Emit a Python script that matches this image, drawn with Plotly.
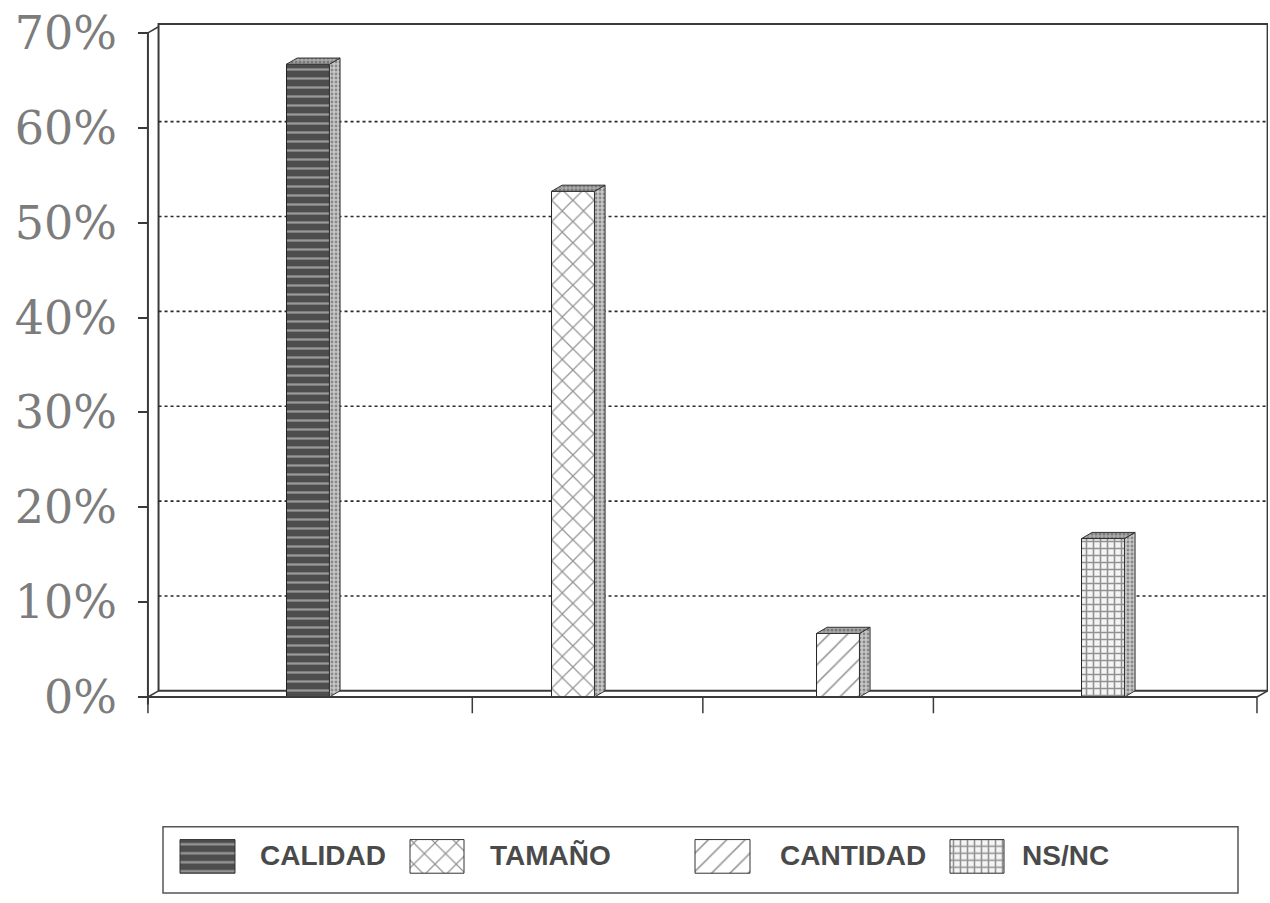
import plotly.graph_objects as go

# ---- data ----
categories = ["CALIDAD", "TAMAÑO", "CANTIDAD", "NS/NC"]
values = [66.7, 53.3, 6.7, 16.7]          # percent of responses
y_ticks = [0, 10, 20, 30, 40, 50, 60, 70]
y_tick_labels = ["0%", "10%", "20%", "30%", "40%", "50%", "60%", "70%"]
x_divisions = [0.396, 1.62, 2.49, 3.36, 4.581]   # tick marks along the front floor edge

# ---- styles ----
front_patterns = [
    dict(shape="-", fgcolor="#e6e6e6", bgcolor="#4d4d4d", size=9, solidity=0.25),
    dict(shape="x", fgcolor="#2a2a2a", bgcolor="#ffffff", size=15, solidity=0.16),
    dict(shape="/", fgcolor="#333333", bgcolor="#ffffff", size=13, solidity=0.12),
    dict(shape="+", fgcolor="#2e2e2e", bgcolor="#f4f4f4", size=7, solidity=0.4),
]
side_pattern = dict(shape=".", fgcolor="#4a4a4a", bgcolor="#c8c8c8", size=4, solidity=0.4)
top_pattern = dict(shape=".", fgcolor="#4a4a4a", bgcolor="#aaaaaa", size=4, solidity=0.45)

bar_w = 0.162     # front face width (x units)
dx = 0.04         # depth offset in x
dy = 0.65         # depth offset in y (percent units)
x_left, x_right = x_divisions[0], x_divisions[-1]
y_top = 70

positions = [i + 1 for i in range(len(categories))]

fig = go.Figure()

for pos, val, pat in zip(positions, values, front_patterns):
    # front face
    fig.add_trace(go.Bar(
        x=[pos], y=[val], width=bar_w,
        marker=dict(color=pat["bgcolor"], pattern=pat,
                    line=dict(color="#222222", width=1)),
        showlegend=False, hoverinfo="skip",
    ))
    xr = pos + bar_w / 2
    xl = pos - bar_w / 2
    # side face
    fig.add_trace(go.Scatter(
        x=[xr, xr + dx, xr + dx, xr, xr], y=[0, dy, val + dy, val, 0],
        mode="lines", fill="toself", fillcolor=side_pattern["bgcolor"],
        fillpattern=side_pattern, line=dict(color="#333333", width=1),
        showlegend=False, hoverinfo="skip",
    ))
    # top face
    fig.add_trace(go.Scatter(
        x=[xl, xl + dx, xr + dx, xr, xl], y=[val, val + dy, val + dy, val, val],
        mode="lines", fill="toself", fillcolor=top_pattern["bgcolor"],
        fillpattern=top_pattern, line=dict(color="#333333", width=1),
        showlegend=False, hoverinfo="skip",
    ))

shapes = []
line_col = "#3a3a3a"
# back wall
shapes.append(dict(type="rect", xref="x", yref="y", x0=x_left + dx, x1=x_right + dx,
                   y0=dy, y1=y_top + dy + 0.3, line=dict(color=line_col, width=2), layer="below"))
# dotted gridlines on the back wall
for t in y_ticks[1:-1]:
    shapes.append(dict(type="line", xref="x", yref="y", x0=x_left + dx, x1=x_right + dx,
                       y0=t + dy, y1=t + dy, line=dict(color="#2a2a2a", width=1.6, dash="dot"),
                       layer="below"))
# front axis lines
shapes.append(dict(type="line", xref="x", yref="y", x0=x_left, x1=x_left, y0=-0.8, y1=y_top,
                   line=dict(color=line_col, width=2)))
shapes.append(dict(type="line", xref="x", yref="y", x0=x_left, x1=x_right, y0=0, y1=0,
                   line=dict(color=line_col, width=2)))
# depth connectors
shapes.append(dict(type="line", xref="x", yref="y", x0=x_left, x1=x_left + dx, y0=y_top, y1=y_top + dy,
                   line=dict(color=line_col, width=1.5)))
shapes.append(dict(type="line", xref="x", yref="y", x0=x_right, x1=x_right + dx, y0=0, y1=dy,
                   line=dict(color=line_col, width=1.5)))
shapes.append(dict(type="line", xref="x", yref="y", x0=x_left, x1=x_left + dx, y0=0, y1=dy,
                   line=dict(color=line_col, width=1.5)))
# floor tick marks
for xv in x_divisions:
    shapes.append(dict(type="line", xref="x", yref="y", x0=xv, x1=xv, y0=0, y1=-1.7,
                       line=dict(color=line_col, width=1.5)))

# ---- legend (drawn on a pixel-scaled helper axis) ----
swatch_spans = [(180, 235), (410, 464), (695, 750), (950, 1004)]
label_left = [258, 488, 778, 1020]
sw_top, sw_bottom = 848, 882
annotations = []
for (a, b), pat, name, tx in zip(swatch_spans, front_patterns, categories, label_left):
    fig.add_trace(go.Bar(
        x=[(a + b) / 2], y=[sw_bottom - sw_top], base=[sw_top], width=b - a,
        xaxis="x2", yaxis="y2",
        marker=dict(color=pat["bgcolor"], pattern=pat, line=dict(color="#333333", width=1)),
        showlegend=False, hoverinfo="skip",
    ))
    annotations.append(dict(xref="x2", yref="y2", x=tx, y=(sw_top + sw_bottom) / 2 - 1,
                            text=name, showarrow=False, xanchor="left", yanchor="middle",
                            font=dict(family="Liberation Sans", size=28, color="#4a4a4a",
                                      weight="bold")))
shapes.append(dict(type="rect", xref="x2", yref="y2", x0=163, x1=1238, y0=835, y1=902,
                   line=dict(color="#555555", width=1.5)))

H = 903
top_margin = 20
paper_h = H - top_margin

fig.update_layout(
    width=1270, height=H,
    margin=dict(l=138, r=2, t=top_margin, b=0),
    paper_bgcolor="white", plot_bgcolor="white",
    barmode="overlay",
    showlegend=False,
    shapes=shapes,
    annotations=annotations,
    xaxis=dict(range=[0.3585, 4.6226], showticklabels=False, showgrid=False,
               zeroline=False, showline=False, ticks=""),
    yaxis=dict(range=[-1.88, 71.36], domain=[(H - 722) / paper_h, 1],
               tickvals=y_ticks, ticktext=y_tick_labels,
               ticks="inside", ticklen=10, tickwidth=1.5, tickcolor=line_col,
               ticklabelstandoff=20,
               tickfont=dict(family="DejaVu Serif", size=46, color="#7c7c7c"),
               showgrid=False, zeroline=False, showline=False),
    xaxis2=dict(domain=[0, 1], range=[138, 1268], anchor="y2", visible=False),
    yaxis2=dict(domain=[0, (H - 830) / paper_h], range=[H, 830], anchor="x2", visible=False),
)

fig.write_html("out.html")
